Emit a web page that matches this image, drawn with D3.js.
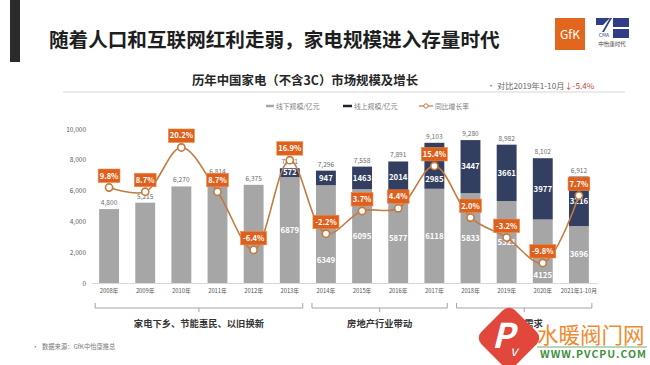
<!DOCTYPE html>
<html><head><meta charset="utf-8">
<script src="https://cdn.jsdelivr.net/npm/d3@7"></script>
<style>
body{margin:0;background:#fff}
svg{display:block}
text{font-family:"Noto Sans CJK SC","Noto Sans",sans-serif}
</style>
</head><body>
<svg id="c" width="650" height="365"></svg>
<script>
// ---------- data ----------
const years = ["2008年","2009年","2010年","2011年","2012年","2013年","2014年","2015年","2016年","2017年","2018年","2019年","2020年","2021年1-10月"];
const offline = [4800, 5215, 6270, 6814, 6375, 6879, 6349, 6095, 5877, 6118, 5833, 5321, 4125, 3696];
const online  = [0, 0, 0, 0, 0, 572, 947, 1463, 2014, 2985, 3447, 3661, 3977, 3216];
const growth  = [9.8, 8.7, 20.2, 8.7, -6.4, 16.9, -2.2, 3.7, 4.4, 15.4, 2.0, -3.2, -9.8, 7.7];
const yTicks  = [0, 2000, 4000, 6000, 8000, 10000];
const seriesNames = ["线下规模/亿元", "线上规模/亿元", "同比增长率"];
const phaseLabels = ["家电下乡、节能惠民、以旧换新", "房地产行业带动", "更新需求"];
const phaseStart = ["2008年", "2014年", "2018年"];
const phaseEnd   = ["2013年", "2017年", "2021年1-10月"];
const mainTitle = "随着人口和互联网红利走弱，家电规模进入存量时代";
const chartTitle = "历年中国家电（不含3C）市场规模及增长";
const noteText = "对比2019年1-10月";
const noteValue = "↓-5.4%";
const sourceText = "数据来源：GfK中怡康推总";

// ---------- setup ----------
const svg = d3.select("#c");
const C_GRAY = "#a6a6a6", C_NAVY = "#333f60", C_LINE = "#c27a40", C_BOX = "#de601c";

// header
svg.append("rect").attr("x",10).attr("y",0).attr("width",10).attr("height",62).attr("fill","#2b2b2b");
svg.append("text").attr("x",49).attr("y",47).attr("font-size",19.6).attr("font-weight",700)
  .attr("fill","#1e1e1e").text(mainTitle);

// logos
const lg = svg.append("g");
lg.append("rect").attr("x",555).attr("y",18).attr("width",30).attr("height",32).attr("fill","#e3661f");
lg.append("text").attr("x",570).attr("y",39).attr("text-anchor","middle").attr("font-size",12)
  .attr("fill","#fff").attr("font-family","Liberation Sans, sans-serif").text("GfK");
lg.append("path").attr("d","M596,18 L610,18 L603,25 L596,25 Z").attr("fill","#2f3e86");
lg.append("path").attr("d","M610,18 L612,18 L604,32 L602,32 Z").attr("fill","#2f3e86");
lg.append("rect").attr("x",613).attr("y",18).attr("width",16).attr("height",9).attr("fill","#2f3e86");
lg.append("rect").attr("x",613).attr("y",29).attr("width",16).attr("height",9).attr("fill","#2f3e86");
lg.append("text").attr("x",604).attr("y",37).attr("text-anchor","middle").attr("font-size",5)
  .attr("fill","#2f3e86").attr("font-family","Liberation Sans, sans-serif").text("CMA");
lg.append("text").attr("x",612).attr("y",46).attr("text-anchor","middle").attr("font-size",5.5)
  .attr("fill","#444").text("中怡康时代");

// chart title + rule
svg.append("text").attr("x",305).attr("y",84.5).attr("text-anchor","middle").attr("font-size",12.4)
  .attr("font-weight",700).attr("fill","#262626").text(chartTitle);
svg.append("line").attr("x1",63).attr("x2",625).attr("y1",92).attr("y2",92)
  .attr("stroke","#e3e3e3").attr("stroke-width",1.5);

// note
svg.append("text").attr("x",487).attr("y",89).attr("font-size",8).attr("fill","#777").text("•");
const nt = svg.append("text").attr("x",497).attr("y",89).attr("font-size",8.2).attr("fill","#666");
nt.append("tspan").text(noteText);
nt.append("tspan").attr("fill","#c8453a").text(noteValue);

// legend
const leg = svg.append("g").attr("font-size",6.8).attr("fill","#808080");
leg.append("line").attr("x1",266).attr("x2",274).attr("y1",106).attr("y2",106).attr("stroke",C_GRAY).attr("stroke-width",2.5);
leg.append("text").attr("x",276).attr("y",108.5).text(seriesNames[0]);
leg.append("line").attr("x1",343).attr("x2",352).attr("y1",106).attr("y2",106).attr("stroke","#1d2230").attr("stroke-width",2.5);
leg.append("text").attr("x",354).attr("y",108.5).text(seriesNames[1]);
leg.append("line").attr("x1",419).attr("x2",433).attr("y1",106).attr("y2",106).attr("stroke",C_LINE).attr("stroke-width",1.2);
leg.append("circle").attr("cx",426).attr("cy",106).attr("r",2.2).attr("fill","#fff").attr("stroke",C_LINE).attr("stroke-width",1);
leg.append("text").attr("x",435).attr("y",108.5).text(seriesNames[2]);

// ---------- scales ----------
const x = d3.scaleBand().domain(years).range([91,597]).paddingInner(0.45).paddingOuter(0.225);
const y = d3.scaleLinear().domain([0,10000]).range([283,129]);
const y2 = d3.scaleLinear().domain([-15,25]).range([283,129]);
const bw = x.bandwidth();
const cx = d => x(d) + bw/2;

// y axis
const ya = svg.append("g").attr("transform","translate(86,0)")
  .call(d3.axisLeft(y).tickValues(yTicks).tickFormat(d3.format(",")).tickSize(0).tickPadding(0));
ya.select(".domain").remove();
ya.selectAll("text").attr("font-size",6.5).attr("fill","#5a5a5a").attr("font-family","Noto Sans, sans-serif");

// x axis
const xa = svg.append("g").attr("transform","translate(0,283)")
  .call(d3.axisBottom(x).tickSize(0).tickPadding(6));
xa.select(".domain").attr("stroke","#d9d9d9");
xa.selectAll("text").attr("font-size",5.8).attr("fill","#555");

// bars
const rows = years.map((yr,i)=>({yr, off:offline[i], on:online[i], g:growth[i], tot:offline[i]+online[i]}));
svg.append("g").selectAll("rect").data(rows).join("rect")
  .attr("x",d=>x(d.yr)).attr("width",bw)
  .attr("y",d=>y(d.off)).attr("height",d=>y(0)-y(d.off)).attr("fill",C_GRAY);
svg.append("g").selectAll("rect").data(rows.filter(d=>d.on>0)).join("rect")
  .attr("x",d=>x(d.yr)).attr("width",bw)
  .attr("y",d=>y(d.tot)).attr("height",d=>y(d.off)-y(d.tot)).attr("fill",C_NAVY);

// total labels
svg.append("g").selectAll("text").data(rows).join("text")
  .attr("x",d=>cx(d.yr)).attr("y",d=>y(d.tot)-4).attr("text-anchor","middle")
  .attr("font-size",6.6).attr("fill","#6a6a6a").text(d=>d3.format(",")(d.tot));

// inner labels (avoid collisions with growth marker/box)
function labelY(top, bottom, py){
  const c = (top+bottom)/2;
  if (c >= py-20 && c <= py+4) return (py+4+bottom)/2;
  return c;
}
const inner = svg.append("g").attr("font-size",7.8).attr("font-weight",700).attr("fill","#fff").attr("text-anchor","middle");
rows.filter(d=>d.on>0).forEach(d=>{
  const py = y2(d.g);
  inner.append("text").attr("x",cx(d.yr)).attr("y",labelY(y(d.tot),y(d.off),py)+2.8).text(d.on);
  inner.append("text").attr("x",cx(d.yr)).attr("y",labelY(y(d.off),y(0),py)+2.8).text(d.off);
});

// growth line
const line = d3.line().x(d=>cx(d.yr)).y(d=>y2(d.g)).curve(d3.curveCatmullRom.alpha(0.5));
svg.append("path").datum(rows).attr("d",line).attr("fill","none").attr("stroke",C_LINE).attr("stroke-width",1.6);
svg.append("g").selectAll("circle").data(rows).join("circle")
  .attr("cx",d=>cx(d.yr)).attr("cy",d=>y2(d.g)).attr("r",3.6)
  .attr("fill","#fff").attr("stroke",C_LINE).attr("stroke-width",1.6);

// growth label boxes
const gl = svg.append("g");
rows.forEach(d=>{
  const px = cx(d.yr), py = y2(d.g);
  const t = d.g.toFixed(1)+"%";
  const w = t.length*4.2+5;
  gl.append("rect").attr("x",px-w/2).attr("y",py-18.5).attr("width",w).attr("height",13.5)
    .attr("fill",C_BOX).attr("stroke","#f08a4a").attr("stroke-width",0.6);
  gl.append("text").attr("x",px).attr("y",py-9).attr("text-anchor","middle")
    .attr("font-size",7.6).attr("font-weight",700).attr("fill","#fff").text(t);
});

// phase brackets
const br = svg.append("g");
phaseLabels.forEach((lab,i)=>{
  const x0 = x(phaseStart[i]) - 4, x1 = x(phaseEnd[i]) + bw + 3, xm = (x0+x1)/2;
  br.append("path").attr("d",`M${x0},303 V308 H${x1} V303 M${xm},308 V312`)
    .attr("fill","none").attr("stroke","#9a9a9a").attr("stroke-width",0.9);
  br.append("text").attr("x",xm).attr("y",326.5).attr("text-anchor","middle")
    .attr("font-size",9.3).attr("font-weight",700).attr("fill","#333").text(lab);
});

// source
svg.append("text").attr("x",32).attr("y",349).attr("font-size",6.5).attr("fill","#777").text("•");
svg.append("text").attr("x",42).attr("y",349).attr("font-size",6.3).attr("fill","#777").text(sourceText);

// watermark
const wm = svg.append("g");
wm.append("rect").attr("x",-24).attr("y",-24).attr("width",48).attr("height",48).attr("rx",9)
  .attr("transform","translate(509,338) rotate(45)").attr("fill","#e2473c");
wm.append("text").attr("x",503).attr("y",348).attr("text-anchor","middle").attr("font-size",34)
  .attr("font-weight",700).attr("font-style","italic").attr("fill","#fff").attr("font-family","Liberation Serif, serif").text("P");
wm.append("text").attr("x",514).attr("y",356).attr("text-anchor","middle").attr("font-size",14)
  .attr("font-style","italic").attr("fill","#fff").attr("font-family","Liberation Serif, serif").text("v");
wm.append("text").attr("x",537).attr("y",343).attr("font-size",21.5).attr("fill","#f08a2e").text("水暖阀门网");
wm.append("line").attr("x1",537).attr("x2",647).attr("y1",347).attr("y2",347).attr("stroke","#4a9a4a").attr("stroke-width",0.8);
wm.append("text").attr("x",540).attr("y",358).attr("font-size",10.5).attr("font-weight",700)
  .attr("fill","#3f8f3f").attr("font-family","Liberation Sans, sans-serif").attr("textLength",106).text("WWW.PVCPU.COM");
</script>
</body></html>
